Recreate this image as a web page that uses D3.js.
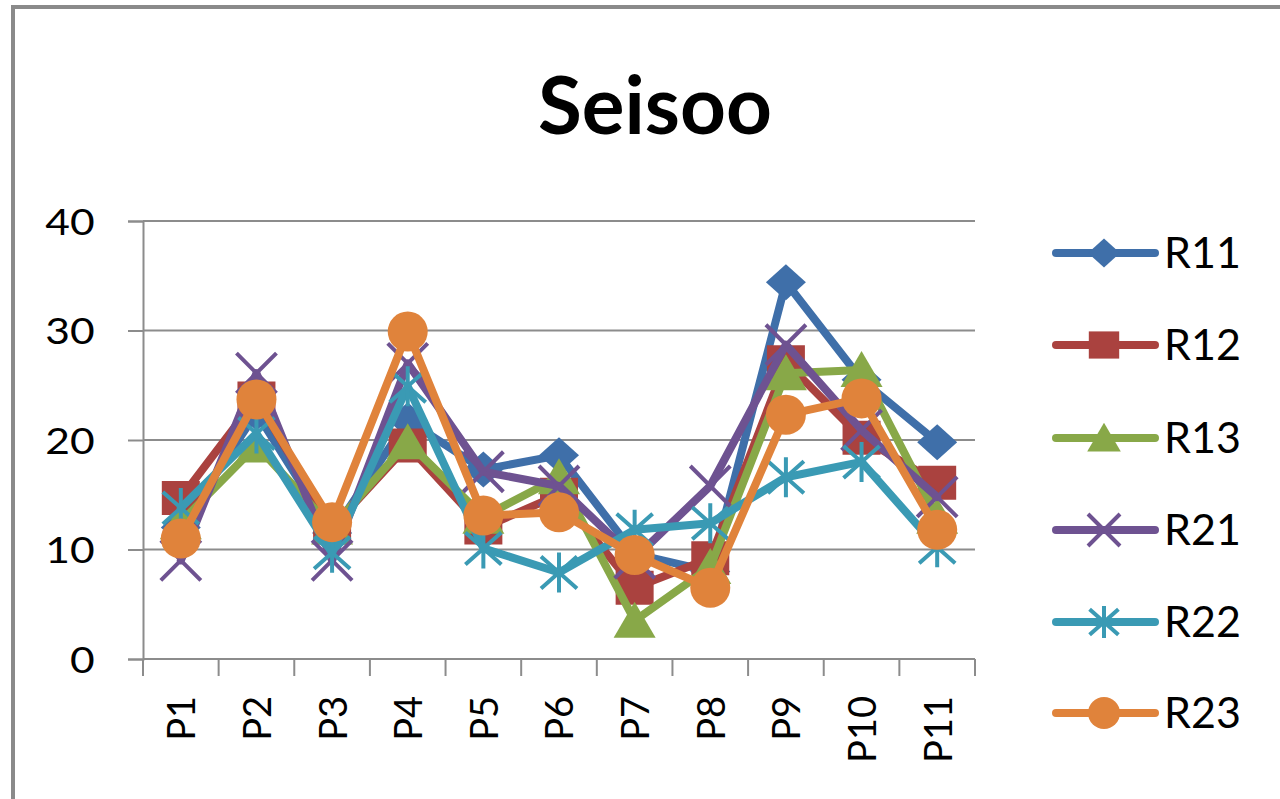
<!DOCTYPE html>
<html>
<head>
<meta charset="utf-8">
<script src="https://cdn.jsdelivr.net/npm/d3@7/dist/d3.min.js"></script>
<style>
  html, body { margin: 0; padding: 0; background: #ffffff; }
  svg { display: block; }
  text { font-family: Lato, "Open Sans", sans-serif; fill: #000; }
</style>
</head>
<body>
<svg id="chart" width="1280" height="799"></svg>
<script>
// ---- data ----
const title = "Seisoo";
const categories = ["P1","P2","P3","P4","P5","P6","P7","P8","P9","P10","P11"];
const seriesNames = ["R11","R12","R13","R21","R22","R23"];
const R11 = [12.0, 22.5, 11.5, 21.8, 17.3, 18.6, 9.6, 8.0, 34.4, 25.5, 19.8];
const R12 = [14.7, 23.8, 12.0, 19.5, 12.0, 15.0, 6.5, 9.2, 27.1, 20.2, 16.1];
const R13 = [12.5, 19.5, 12.0, 19.8, 13.0, 16.6, 3.5, 8.4, 26.1, 26.4, 13.0];
const R21 = [9.0, 26.1, 9.0, 27.0, 17.1, 15.8, 9.2, 15.8, 28.7, 20.9, 14.8];
const R22 = [13.8, 20.6, 9.7, 24.9, 10.1, 7.9, 11.8, 12.4, 16.6, 18.0, 10.2];
const R23 = [11.0, 23.7, 12.5, 29.9, 13.1, 13.4, 9.5, 6.5, 22.3, 23.8, 11.8];
const yTicks = [0, 10, 20, 30, 40];
const colors = ["#3F6FA9", "#AA423F", "#88A848", "#6E5291", "#3A9AB4", "#E0833B"];
const markers = ["diamond","square","triangle","x","star","circle"];
const seriesValues = [R11, R12, R13, R21, R22, R23];

// ---- layout ----
const svg = d3.select("#chart");
const plot = { left: 143, right: 975, top: 221, bottom: 659 };

// chart border
svg.append("rect").attr("x", 13).attr("y", 7).attr("width", 1300).attr("height", 820)
  .attr("fill", "none").attr("stroke", "#8a8a8a").attr("stroke-width", 4);

const x = d3.scaleBand().domain(categories).range([plot.left, plot.right]).padding(0);
const y = d3.scaleLinear().domain([0, 40]).range([plot.bottom, plot.top]);

// title
svg.append("text").attr("x", 655).attr("y", 134).attr("text-anchor", "middle")
  .style("font-size", "80px").style("font-weight", "bold").text(title);

// gridlines
svg.append("g").selectAll("line").data(yTicks.filter(d => d > 0)).join("line")
  .attr("x1", plot.left).attr("x2", plot.right)
  .attr("y1", d => y(d)).attr("y2", d => y(d))
  .attr("stroke", "#8c8c8c").attr("stroke-width", 2);

// y axis
const yAxis = svg.append("g").attr("transform", `translate(${plot.left},0)`)
  .call(d3.axisLeft(y).tickValues(yTicks).tickSize(15).tickPadding(27).tickFormat(d3.format("d")));
yAxis.select(".domain").attr("stroke", "#8c8c8c").attr("stroke-width", 2);
yAxis.selectAll(".tick line").attr("stroke", "#8c8c8c").attr("stroke-width", 2);
yAxis.selectAll(".tick text").style("font-size", "37px").style("font-family", "Lato, sans-serif")
  .attr("fill", "#000").attr("dy", "0.36em").attr("transform", "scale(1.15,1)");

// x axis (ticks at category boundaries)
const xg = svg.append("g");
xg.append("line").attr("x1", plot.left).attr("x2", plot.right)
  .attr("y1", plot.bottom).attr("y2", plot.bottom)
  .attr("stroke", "#8c8c8c").attr("stroke-width", 2);
const boundaries = categories.map(c => x(c)).concat([x(categories[categories.length - 1]) + x.bandwidth()]);
xg.selectAll("line.tk").data(boundaries).join("line").attr("class", "tk")
  .attr("x1", d => d).attr("x2", d => d)
  .attr("y1", plot.bottom).attr("y2", plot.bottom + 17)
  .attr("stroke", "#8c8c8c").attr("stroke-width", 2);
xg.selectAll("text").data(categories).join("text")
  .attr("transform", d => `translate(${x(d) + x.bandwidth() / 2},696) rotate(-90)`)
  .attr("text-anchor", "end").attr("dy", "0.38em")
  .style("font-size", "38px").text(d => d);

// marker paths
function markerPath(type, s) {
  const h = s / 2;
  switch (type) {
    case "diamond": return `M0,${-h*0.9}L${h},0L0,${h*0.9}L${-h},0Z`;
    case "square": return `M${-h*0.95},${-h*0.85}H${h*0.95}V${h*0.85}H${-h*0.95}Z`;
    case "triangle": return `M0,${-h*0.95}L${h*1.05},${h*0.85}L${-h*1.05},${h*0.85}Z`;
    case "x": return `M${-h},${-h}L${h},${h}M${h},${-h}L${-h},${h}`;
    case "star": return `M${-h*0.9},${-h*0.8}L${h*0.9},${h*0.8}M${h*0.9},${-h*0.8}L${-h*0.9},${h*0.8}M0,${-h}V${h}`;
    case "circle": return `M${h},0A${h},${h} 0 1,1 ${-h},0A${h},${h} 0 1,1 ${h},0Z`;
  }
}
function drawMarker(g, type, color, s) {
  const open = type === "x" || type === "star";
  g.append("path").attr("d", markerPath(type, s))
    .attr("fill", open ? "none" : color)
    .attr("stroke", color)
    .attr("stroke-width", open ? 4 : 0);
}

// series
const line = d3.line().x((d, i) => x(categories[i]) + x.bandwidth() / 2).y(d => y(d));
seriesValues.forEach((vals, k) => {
  const g = svg.append("g");
  g.append("path").datum(vals).attr("d", line)
    .attr("fill", "none").attr("stroke", colors[k]).attr("stroke-width", 8)
    .attr("stroke-linejoin", "round").attr("stroke-linecap", "round");
  vals.forEach((v, i) => {
    const mg = g.append("g").attr("transform", `translate(${x(categories[i]) + x.bandwidth() / 2},${y(v)})`);
    drawMarker(mg, markers[k], colors[k], 40);
  });
});

// legend
const legendY = [253, 345, 438, 530, 622, 713];
seriesNames.forEach((name, k) => {
  const g = svg.append("g").attr("transform", `translate(0,${legendY[k]})`);
  g.append("line").attr("x1", 1056).attr("x2", 1155).attr("y1", 0).attr("y2", 0)
    .attr("stroke", colors[k]).attr("stroke-width", 8).attr("stroke-linecap", "round");
  const mg = g.append("g").attr("transform", "translate(1104,0)");
  drawMarker(mg, markers[k], colors[k], 32);
  g.append("text").attr("x", 1164).attr("y", 0).attr("dy", "0.36em")
    .style("font-size", "43px").text(name);
});
</script>
</body>
</html>
